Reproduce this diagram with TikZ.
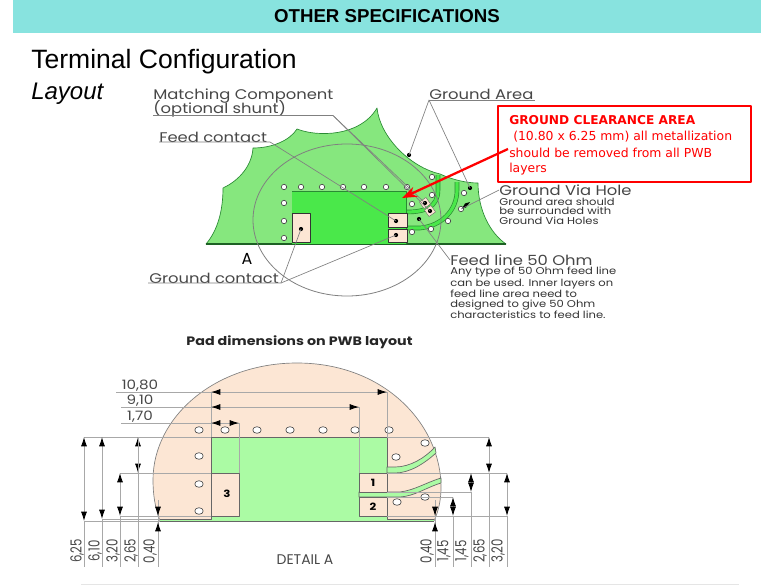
\documentclass[tikz,border=0pt]{standalone}
\usepackage{fontspec}
\setmainfont{Liberation Sans}
\newfontfamily\gothicfont[FakeStretch=1.17]{Poppins}
\newfontfamily\plaingothic{Poppins}
\newfontfamily\boxfont{DejaVu Sans}
\usetikzlibrary{arrows.meta}
\definecolor{bandcyan}{HTML}{88E3DF}
\definecolor{padgreen}{HTML}{86E77E}
\definecolor{cleargreen}{HTML}{4AE84A}
\definecolor{edgegreen}{HTML}{2A8A34}
\definecolor{peach}{HTML}{FCE6D4}
\definecolor{lightgreen}{HTML}{ABFBA4}
\definecolor{leadergrey}{HTML}{808080}
\definecolor{dimgrey}{HTML}{A8A8A8}
\tikzset{
  leader/.style={draw=leadergrey,line width=0.5pt},
  hole/.style={draw=black!70,fill=white,line width=0.5pt},
  pad/.style={draw=black!80,fill=peach,line width=0.7pt},
  dimline/.style={draw=dimgrey,line width=0.65pt},
  dimtip/.style={dimline,{Latex[black,length=7pt,width=4.5pt]}-{Latex[black,length=7pt,width=4.5pt]}},
  dimend/.style={dimline,-{Latex[black,length=7pt,width=4.5pt]}},
  lbl/.style={font=\gothicfont\fontsize{10.5}{11}\selectfont,text=black!72,inner sep=0pt,anchor=west},
  small/.style={font=\gothicfont\fontsize{7.4}{7.2}\selectfont,text=black!80,inner sep=0pt,anchor=north west,align=left},
  dimlbl/.style={font=\gothicfont\fontsize{9.7}{10}\selectfont,text=black!72,inner sep=0pt},
  padnum/.style={font=\gothicfont\bfseries\fontsize{7.5}{8}\selectfont,inner sep=0pt},
  redline/.style={anchor=west,inner sep=0pt,text=red,font=\boxfont\fontsize{9.3}{10}\selectfont},
}
\newcommand{\rotlbl}[1]{\scalebox{1}[1.3]{\plaingothic\fontsize{8.8}{9}\selectfont #1}}
\begin{document}
\begin{tikzpicture}[x=0.75pt,y=-0.75pt,line join=round,>=stealth]
\useasboundingbox (0,0) rectangle (777,585);
\fill[bandcyan] (13,0) rectangle (761,33);
\draw[black!10,line width=0.6pt] (81,584) -- (739,584);
\node (title) at (387,16) {\fontsize{14}{16}\selectfont\bfseries OTHER SPECIFICATIONS};
\node[anchor=west,inner sep=0pt] (terminal) at (31,62) {\fontsize{19.9}{22}\selectfont Terminal Configuration};
\node[anchor=west,inner sep=0pt] (layout) at (31,94) {\fontsize{18}{22}\selectfont\itshape Layout};
% upper drawing
\filldraw[fill=padgreen,draw=edgegreen,line width=0.5pt] (206,244)
  .. controls (218,230) and (223,210) .. (223,188)
  .. controls (240,180) and (252,165) .. (253,148)
  .. controls (273,148) and (290,140) .. (297,129)
  .. controls (317,137) and (360,137) .. (377,108)
  .. controls (380,137) and (410,167) .. (440,174)
  .. controls (453,180) and (467,183) .. (478,183)
  .. controls (478,210) and (490,233) .. (506,244) -- cycle;
\draw[edgegreen!70!black,line width=0.9pt] (206,244) -- (506,244);
\fill[cleargreen] (292,191) rectangle (406,244);
\draw[edgegreen,line width=0.5pt] (292,191) -- (406,191) -- (406,244);
\draw[edgegreen,line width=3.4pt] (407,212) .. controls (425,212) and (438,207) .. (438,190) -- (438,175);
\draw[cleargreen,line width=2.4pt] (407,212) .. controls (425,212) and (438,207) .. (438,190) -- (438,175);
\draw[edgegreen,line width=3.4pt] (407,228) -- (420,228) .. controls (442,226) and (457,210) .. (457,190) -- (457,182);
\draw[cleargreen,line width=2.4pt] (407,228) -- (420,228) .. controls (442,226) and (457,210) .. (457,190) -- (457,182);
\draw[leadergrey,line width=0.6pt] (347,220) ellipse (94 and 76);
\draw[pad] (292,213) rectangle (310,242);
\draw[pad] (388,213) rectangle (407,227);
\draw[pad] (388,229) rectangle (407,242);
\fill[peach,draw=black!60,line width=0.3pt,rotate around={35:(425,203)}] (421,199) rectangle (429,207);
\fill[peach,draw=black!60,line width=0.3pt,rotate around={35:(430,211)}] (426,207) rectangle (434,215);
\foreach \x/\y in {284/187,301/187,322/187,343/187,364/187,386/187,407/187,
  284/203,284/221,284/238,432/177,432/195,412/204,464/193,461/209,448/221,431/229,412/232}
  \draw[hole] (\x,\y) circle (2.7);
\foreach \name/\x/\y in {dotarea/409/155,dotvia/470/188,dotshunta/425/203,dotshuntb/430/211,dotfeedline/419/219,dotfeed/396/221,dotgnda/301/229,dotgndb/396/235}{
  \coordinate (\name) at (\x,\y);
  \fill[black] (\name) circle (2.1);
}
\fill[black] (470,202) -- (466,207.5) -- (462,208.5) -- (465,203.5) -- cycle;
% labels and leaders
\node[lbl] (matching) at (153,96) {Matching Component};
\node[lbl] (shunt) at (153,109) {(optional shunt)};
\node[lbl] (feed) at (159,137) {Feed contact};
\node[lbl] (area) at (429,94) {Ground Area};
\node[lbl] (gcontact) at (149,278) {Ground contact};
\node[lbl] (via) at (499,190) {Ground Via Hole};
\node[small,anchor=west] (viatext) at (499,211) {Ground area should\\be surrounded with\\Ground Via Holes};
\node[lbl] (line50) at (450,260) {Feed line 50 Ohm};
\node[small] (linetext) at (450,267) {Any type of 50 Ohm feed line\\can be used. Inner layers on\\feed line area need to\\designed to give 50 Ohm\\characteristics to feed line.};
\node[font=\plaingothic\fontsize{12}{13}\selectfont,inner sep=0pt] (detailmark) at (247,259) {A};
\coordinate (shuntend) at (333,115.5);
\coordinate (feedend) at (270,142);
\coordinate (areaend) at (429,100);
\coordinate (gndend) at (281,283);
\draw[leader] (153,115.5) -- (shuntend) -- (dotshunta);
\draw[leader] (shuntend) -- (dotshuntb);
\draw[leader] (159,142) -- (feedend) -- (dotfeed);
\draw[leader] (areaend) -- (535,100);
\draw[leader] (dotarea) -- (areaend) -- (dotvia);
\draw[leader] (148,283) -- (gndend) -- (dotgnda);
\draw[leader] (gndend) -- (dotgndb);
\draw[leader] (via.west) -- (461,209);
\draw[leader] (line50.west) -- (dotfeedline);
% clearance box
\node[draw=red,fill=white,line width=1.6pt,anchor=north west,minimum width=190pt,minimum height=57pt,inner sep=0pt] (clearbox) at (497,105) {};
\node[redline,font=\boxfont\fontsize{9.15}{10}\selectfont\bfseries] (clearhead) at (509,120) {GROUND CLEARANCE AREA};
\node[redline] (clearsize) at (513,137) {(10.80 x 6.25 mm) all metallization};
\node[redline] (clearmore) at (509,153) {should be removed from all PWB};
\node[redline] (clearlast) at (509,169) {layers};
\coordinate (cleartip) at (402,198);
\draw[red,line width=1.7pt,-{Stealth[length=11pt,width=8pt]}] (508,149) -- (cleartip);
% lower drawing
\node[font=\gothicfont\bfseries\fontsize{9.15}{10}\selectfont,text=black!85,inner sep=0pt] (padtitle) at (299.5,342) {Pad dimensions on PWB layout};
\filldraw[fill=peach,draw=leadergrey,line width=0.5pt] (160,521)
  .. controls (155,507) and (153,495) .. (153,480)
  .. controls (153,417) and (215,363) .. (297,363)
  .. controls (385,363) and (441,425) .. (441,487)
  .. controls (441,499) and (439,510) .. (434,521) -- cycle;
\fill[lightgreen] (211,437) rectangle (387,521);
\fill[lightgreen] (160,519) rectangle (211,521);
\fill[lightgreen] (387,519) rectangle (434,521);
\draw[black!60,line width=0.6pt] (211,473) -- (211,437) -- (387,437) -- (387,467);
\draw[black!60,line width=0.6pt] (160,521) -- (434,521);
\draw[black!60,line width=0.5pt] (160,519) -- (211,519) -- (211,516);
\draw[black!60,line width=0.5pt] (387,516) -- (387,519) -- (434,519);
\filldraw[fill=lightgreen,draw=black!60,line width=0.5pt] (387,467) -- (395,467)
  .. controls (410,467) and (425,458) .. (435,447) -- (436,453)
  .. controls (425,463) and (410,473) .. (395,473) -- (387,473) -- cycle;
\filldraw[fill=lightgreen,draw=black!60,line width=0.5pt] (359,492) -- (400,492)
  .. controls (415,490) and (425,483) .. (441,478) -- (441,483)
  .. controls (425,488) and (415,496) .. (400,497) -- (359,497) -- cycle;
\filldraw[fill=peach,draw=black!60,line width=0.6pt] (211,473) rectangle (239,516);
\filldraw[fill=peach,draw=black!60,line width=0.6pt] (359,473) rectangle (387,492);
\filldraw[fill=peach,draw=black!60,line width=0.6pt] (359,497) rectangle (387,516);
\node[padnum] (padthree) at (227,494) {3};
\node[padnum] (padone) at (373,483) {1};
\node[padnum] (padtwo) at (373,507) {2};
\foreach \x/\y in {199/430,225/430,257/430,290/430,323/430,355/430,389/430,
  199/456,199/484,199/511,425/443,396/457,397/502,425/497}
  \draw[hole] (\x,\y) ellipse (4.2 and 3.3);
% horizontal dimensions
\node[dimlbl] (dima) at (140,386) {10,80};
\node[dimlbl] (dimb) at (140,401) {9,10};
\node[dimlbl] (dimc) at (140,417) {1,70};
\draw[dimline] (116,392) -- (387,392) -- (387,437);
\draw[dimline] (121,407) -- (359,407) -- (359,473);
\draw[dimline] (121,423) -- (239,423) -- (239,473);
\draw[dimline] (211,392) -- (211,437);
\foreach \x/\y/\t in {221/392/211,221/407/211,221/423/211,229/423/239,377/392/387,349/407/359}
  \draw[dimend] (\x,\y) -- (\t,\y);
% vertical dimensions, left
\draw[dimline] (84,437) -- (211,437);
\draw[dimline] (120,473) -- (211,473);
\draw[dimline] (102,519) -- (160,519);
\draw[dimline] (120,516) -- (211,516);
\draw[dimline] (84,521) -- (160,521);
\foreach \x/\y/\t in {84/437/521,102/437/519,120/473/516,138/437/473}
  \draw[dimtip] (\x,\y) -- (\x,\t);
\foreach \x/\y in {84/521,102/519,120/516,138/437,158/500}
  \draw[dimline] (\x,\y) -- (\x,567);
\draw[dimend] (158,507) -- (158,516);
\draw[dimend] (158,531) -- (158,522);
\foreach \x/\t in {77/{6,25},95/{6,10},113/{3,20},131/{2,65},150/{0,40}}
  \node[rotate=90,inner sep=0pt,text=black!72] at (\x,551) {\rotlbl{\t}};
% vertical dimensions, right
\foreach \y/\e in {437/489,473/507,492/471,497/453,516/507}
  \draw[dimline] (387,\y) -- (\e,\y);
\foreach \x/\y/\t in {489/437/473,507/473/516,471/473/492,453/497/516}
  \draw[dimtip] (\x,\y) -- (\x,\t);
\foreach \x/\y in {489/473,507/516,471/492,453/516,435/500}
  \draw[dimline] (\x,\y) -- (\x,567);
\draw[dimend] (435,507) -- (435,516);
\draw[dimend] (435,531) -- (435,522);
\foreach \x/\t in {427/{0,40},444/{1,45},462/{1,45},480/{2,65},498/{3,20}}
  \node[rotate=90,inner sep=0pt,text=black!72] at (\x,551) {\rotlbl{\t}};
\node[font=\plaingothic\fontsize{10.5}{11}\selectfont,text=black!72,inner sep=0pt] (detail) at (305,560) {DETAIL A};
\end{tikzpicture}
\end{document}
